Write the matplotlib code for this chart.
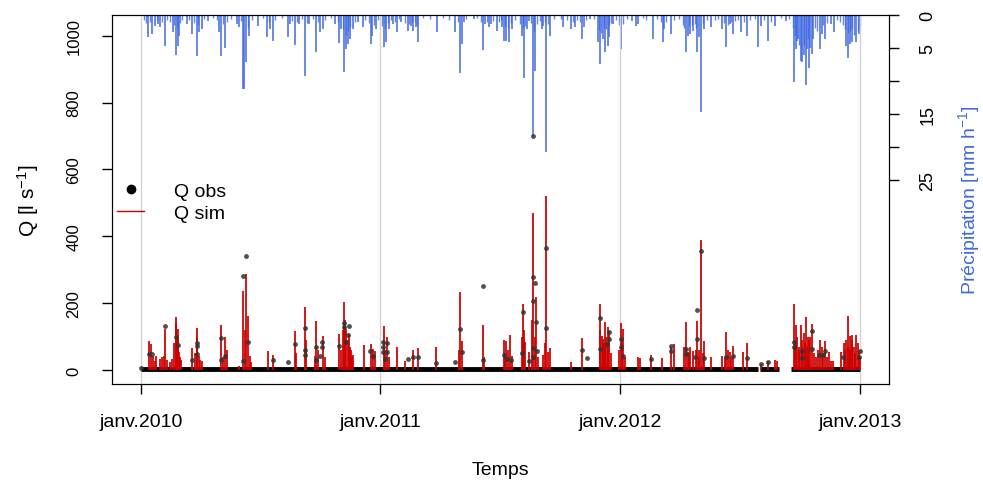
import numpy as np
import pandas as pd
import matplotlib
matplotlib.use('Agg')
import matplotlib.pyplot as plt
from matplotlib.lines import Line2D

plt.rcParams['font.family'] = ['Liberation Sans', 'DejaVu Sans']
plt.rcParams['mathtext.fontset'] = 'custom'
plt.rcParams['mathtext.rm'] = 'Liberation Sans'
plt.rcParams['mathtext.it'] = 'Liberation Sans'

start = pd.Timestamp('2010-01-01')

# precipitation spikes: days since 2010-01-01, mm/h
p_day = [11, 17, 21, 26, 30, 37, 49, 53, 56, 58, 70, 78, 85, 89, 93, 102, 119, 122, 129, 146,
         150, 155, 158, 161, 165, 178, 193, 197, 201, 224, 227, 235, 241, 250, 256, 267, 273, 277,
         296, 302, 305, 310, 313, 316, 319, 323, 331, 338, 350, 353, 358, 370, 374, 378, 384, 390,
         397, 407, 411, 415, 419, 423, 451, 478, 487, 490, 492, 507, 521, 525, 530, 534, 542, 551,
         553, 557, 561, 566, 580, 584, 588, 592, 597, 601, 611, 613, 618, 624, 643, 655, 661, 672,
         675, 684, 696, 699, 704, 707, 711, 714, 719, 731, 749, 755, 758, 780, 795, 797, 807, 830,
         833, 837, 841, 848, 851, 854, 858, 869, 886, 892, 897, 902, 915, 924, 940, 945, 955, 966,
         983, 995, 998, 1000, 1001, 1005, 1008, 1010, 1013, 1015, 1018, 1020, 1022, 1024, 1034,
         1037, 1043, 1051, 1056, 1075, 1078, 1081, 1084, 1090, 1094]
p_val = [3.4, 2.9, 1.6, 1.4, 1.8, 4.7, 2.6, 6.1, 4.7, 3.2, 1.4, 2.9, 6.2, 2.6, 2.1, 0.9, 2.6, 6.2,
         5.0, 1.4, 1.8, 11.3, 11.2, 7.1, 3.2, 1.6, 3.4, 2.1, 3.9, 3.4, 1.4, 4.5, 1.4, 9.2, 1.4, 5.6,
         2.6, 2.1, 1.4, 4.2, 2.1, 8.6, 5.2, 4.4, 3.6, 2.1, 1.1, 1.8, 4.4, 3.2, 2.1, 4.8, 4.1, 2.1,
         1.4, 2.6, 1.1, 2.4, 1.6, 2.4, 1.8, 4.1, 2.6, 2.6, 8.8, 4.4, 1.1, 0.6, 5.3, 1.4, 1.8, 1.4,
         2.4, 1.8, 3.9, 3.9, 4.1, 2.1, 3.2, 9.5, 2.1, 0.9, 18.3, 8.5, 2.1, 1.6, 20.8, 3.2, 1.8, 2.1,
         1.8, 3.6, 1.8, 0.6, 4.1, 7.4, 3.6, 5.6, 4.7, 3.4, 1.4, 5.2, 0.9, 1.6, 1.4, 3.6, 4.1, 2.1,
         2.9, 5.6, 3.2, 2.9, 2.4, 5.6, 3.4, 14.7, 2.1, 1.8, 2.1, 4.8, 1.4, 2.9, 2.6, 3.2, 4.8, 1.6,
         3.9, 1.6, 0.9, 10.2, 5.2, 4.0, 3.6, 7.0, 7.1, 6.0, 10.6, 5.2, 8.0, 5.0, 5.9, 3.6, 5.2, 2.9,
         3.6, 1.4, 2.6, 4.7, 6.5, 4.4, 4.1, 4.1, 2.9]

# light showers (small bars along the top)
pl_day = [5, 8, 14, 24, 33, 40, 44, 51, 55, 60, 63, 74, 81, 87, 96, 110, 116, 125, 132, 137, 153,
          163, 170, 186, 195, 205, 215, 230, 238, 246, 253, 262, 270, 281, 290, 300, 308, 312, 315,
          318, 327, 342, 347, 356, 362, 367, 372, 376, 381, 388, 394, 402, 409, 413, 417, 421, 430,
          440, 460, 470, 484, 495, 512, 518, 527, 537, 545, 548, 555, 559, 564, 570, 577, 582, 586,
          595, 599, 604, 608, 616, 621, 630, 640, 650, 658, 665, 669, 678, 690, 698, 701, 706, 709,
          713, 717, 724, 728, 734, 740, 765, 770, 786, 792, 800, 812, 820, 826, 828, 835, 839, 844,
          846, 856, 862, 875, 880, 889, 894, 899, 905, 910, 919, 928, 935, 950, 960, 975, 988, 993,
          997, 1003, 1006, 1011, 1016, 1027, 1030, 1040, 1046, 1060, 1065, 1070, 1073, 1077, 1080,
          1083, 1087, 1092, 1096]
pl_val = [0.8, 1.2, 1.0, 0.7, 1.1, 0.8, 1.0, 1.5, 2.0, 1.2, 0.8, 0.7, 1.2, 1.5, 0.6, 0.5, 0.8, 1.3,
          1.0, 0.6, 0.9, 1.8, 0.7, 0.5, 1.1, 0.8, 0.5, 0.9, 1.1, 0.6, 1.2, 0.6, 1.0, 0.7, 0.5, 1.1,
          2.2, 3.0, 2.5, 1.8, 1.0, 0.7, 1.2, 1.5, 0.8, 1.6, 2.0, 1.2, 0.8, 1.0, 0.6, 1.2, 1.3, 1.0,
          1.1, 1.5, 0.5, 0.6, 0.5, 0.7, 1.0, 0.6, 0.5, 1.0, 1.1, 0.9, 1.0, 0.8, 1.7, 1.9, 1.2, 0.7,
          1.3, 2.0, 1.6, 1.2, 2.5, 1.3, 0.9, 1.1, 1.3, 0.6, 0.6, 0.8, 1.0, 0.7, 1.1, 0.7, 0.6, 2.3,
          2.8, 2.0, 2.2, 1.5, 1.2, 0.8, 1.5, 1.4, 0.6, 0.5, 0.8, 0.6, 1.0, 1.0, 0.7, 0.6, 1.5, 2.0,
          1.6, 1.5, 1.4, 2.0, 1.2, 0.8, 0.7, 0.6, 1.2, 1.5, 1.0, 0.9, 0.7, 1.0, 0.8, 0.6, 0.8, 1.0,
          0.5, 0.6, 2.0, 3.0, 4.5, 5.0, 4.5, 3.5, 2.0, 2.5, 1.5, 1.2, 0.8, 1.0, 1.5, 2.2, 2.8, 2.5,
          2.0, 3.0, 2.5, 1.5]

# simulated discharge peaks (l/s)
qs_day = [12, 15, 18, 21, 23, 29, 33, 35, 37, 48, 53, 56, 59, 78, 85, 88, 93, 122, 129, 149, 156,
          161, 163, 166, 194, 201, 235, 250, 265, 267, 277, 302, 310, 313, 317, 320, 323, 340, 350,
          354, 357, 370, 375, 390, 402, 414, 423, 450, 487, 490, 521, 553, 557, 562, 566, 580, 582,
          586, 591, 598, 602, 612, 618, 620, 624, 656, 672, 699, 702, 704, 707, 711, 714, 731, 734,
          758, 760, 778, 794, 807, 813, 830, 833, 837, 841, 848, 851, 854, 858, 869, 886, 892, 897,
          902, 917, 924, 945, 956, 966, 969, 995, 998, 1002, 1005, 1008, 1013, 1016, 1018, 1022,
          1034, 1037, 1043, 1049, 1051, 1054, 1067, 1071, 1078, 1081, 1084, 1090, 1094,
          40, 45, 51, 54, 55, 57, 60, 62, 82, 86, 90, 125, 131, 159, 168, 237, 252, 270, 280, 305,
          308, 311, 315, 318, 322, 372, 378, 485, 523, 555, 560, 584, 596, 600, 605, 616, 700, 705,
          709, 712, 716, 729, 733, 737, 828, 835, 846, 850, 856, 890, 894, 899, 997, 1000, 1003,
          1007, 1010, 1012, 1015, 1020, 1025, 1028, 1031, 1040, 1046, 1073, 1075, 1077, 1080, 1083,
          1086, 1088, 1092, 1095]
qs_val = [87, 78, 42, 27, 42, 33, 39, 42, 123, 33, 159, 123, 54, 66, 126, 42, 27, 135, 99, 12, 237,
          287, 162, 42, 57, 45, 117, 189, 42, 147, 102, 108, 204, 123, 108, 60, 45, 75, 78, 63, 57,
          132, 99, 69, 27, 60, 66, 69, 234, 87, 135, 90, 87, 105, 42, 99, 198, 84, 54, 470, 219, 45,
          521, 54, 66, 24, 96, 198, 102, 93, 144, 129, 117, 141, 123, 39, 36, 45, 36, 69, 78, 144, 54,
          69, 57, 147, 39, 389, 87, 39, 42, 114, 54, 72, 54, 81, 18, 27, 30, 27, 198, 135, 69, 135,
          69, 159, 99, 90, 138, 90, 69, 87, 54, 27, 27, 54, 81, 162, 102, 105, 105, 57,
          30, 25, 80, 140, 100, 90, 40, 30, 50, 100, 30, 40, 60, 120, 25, 50, 90, 60, 40, 60,
          120, 150, 90, 70, 40, 60, 40, 60, 40, 50, 60, 120, 150, 100, 40, 80, 120, 80,
          100, 70, 50, 60, 80, 40, 70, 50, 60, 60, 50, 40, 60, 40, 80, 100, 60,
          90, 110, 80, 70, 100, 50, 40, 60, 50, 40, 60, 90, 70, 60, 90,
          70, 50, 80, 40]

# observed discharge points (l/s)
qo_day = [0, 12, 17, 37, 53, 56, 78, 85, 85, 85, 122, 122, 129, 155, 160, 163, 155, 201, 225, 235,
          250, 250, 250, 267, 267, 276, 276, 273, 302, 310, 310, 317, 316, 313, 349, 354, 369, 369,
          369, 372, 375, 375, 407, 414, 423, 450, 478, 487, 490, 521, 521, 553, 558, 564, 582, 580,
          591, 597, 597, 597, 598, 600, 602, 603, 618, 618, 597, 672, 680, 699, 699, 713, 714, 710,
          731, 731, 734, 778, 807, 807, 830, 830, 848, 848, 854, 845, 858, 892, 902, 924, 945, 956,
          995, 995, 1007, 1007, 1022, 1022, 1033, 1039, 1043, 1069, 1096, 1094]
qo_val = [6, 48, 48, 132, 99, 75, 30, 81, 72, 48, 96, 30, 42, 281, 341, 84, 27, 30, 24, 78,
          126, 60, 45, 69, 30, 84, 69, 42, 72, 141, 129, 132, 105, 84, 57, 42, 84, 69,
          54, 33, 81, 54, 33, 39, 39, 21, 24, 123, 54, 251, 30, 45, 33, 30, 174, 51,
          27, 700, 278, 207, 66, 260, 144, 57, 365, 126, 39, 60, 36, 156, 63, 114, 93, 78,
          93, 69, 42, 33, 72, 57, 63, 48, 180, 93, 356, 39, 36, 39, 42, 36, 18, 24,
          84, 69, 57, 36, 117, 63, 45, 45, 57, 39, 57, 39]

# observation periods (baseflow band)
obs_start = [0, 944, 991]
obs_end = [940, 972, 1096]
obs_base = [4, 4, 4]

years = ['2010-01-01', '2011-01-01', '2012-01-01', '2013-01-01']
year_labels = ['janv.2010', 'janv.2011', 'janv.2012', 'janv.2013']


def to_date(days):
    return start + pd.to_timedelta(np.asarray(days, dtype=float), unit='D')


fig = plt.figure(figsize=(9.83, 4.81), dpi=100)
ax = fig.add_axes([112 / 983, 1 - 385 / 481, 777 / 983, 369 / 481])
ax2 = ax.twinx()

# precipitation on the inverted right axis
ax2.vlines(to_date(pl_day), 0, pl_val, color='#4169E1', lw=1.0, alpha=0.8)
ax2.vlines(to_date(p_day), 0, p_val, color='#4169E1', lw=1.1)
ax2.set_ylim(56, 0)
ax2.set_yticks([0, 5, 10, 15, 20, 25])
ax2.set_yticklabels(['0', '5', '', '15', '', '25'])
ax2.tick_params(axis='y', length=7, width=1, labelsize=13, pad=15, labelrotation=90)
for t in ax2.get_yticklabels():
    t.set_va('center')
ax2.set_ylabel('Précipitation [mm h$^{-1}$]', color='#4169E1', fontsize=14, labelpad=14)

ax.set_zorder(ax2.get_zorder() + 1)
ax.patch.set_visible(False)

ax.vlines(pd.to_datetime(years), -100, 1100, color='#D3D3D3', lw=1, zorder=0)
ax.hlines(obs_base, to_date(obs_start), to_date(obs_end), color='black', lw=3.5, zorder=2)
ax.vlines(to_date(qs_day), 0, qs_val, color='#CD0000', lw=1.4, alpha=0.9, zorder=3)
ax.plot(to_date(qo_day), qo_val, 'o', color='#333333', ms=3.5, alpha=0.85, mec='none', zorder=4)

ax.set_xlim(to_date([-43.8])[0], to_date([1139.8])[0])
ax.set_ylim(-42, 1062)
ax.set_yticks([0, 200, 400, 600, 800, 1000])
ax.set_xticks(pd.to_datetime(years))
ax.set_xticklabels(year_labels)
ax.tick_params(axis='y', length=7, width=1, labelsize=12, pad=15, labelrotation=90)
for t in ax.get_yticklabels():
    t.set_va('center')
ax.tick_params(axis='x', length=7, width=1, labelsize=14, pad=14)
ax.set_ylabel('Q [l s$^{-1}$]', fontsize=15, labelpad=18)
ax.set_xlabel('Temps', fontsize=14, labelpad=22)

handles = [Line2D([], [], marker='o', ls='none', color='black', ms=6),
           Line2D([], [], color='#CD0000', lw=1)]
ax.legend(handles, ['Q obs', 'Q sim'], loc='upper left', bbox_to_anchor=(-0.016, 0.595),
          frameon=False, fontsize=14, handlelength=1.4, labelspacing=0.25, handletextpad=1.55)

fig.savefig('out.png', dpi=100)
